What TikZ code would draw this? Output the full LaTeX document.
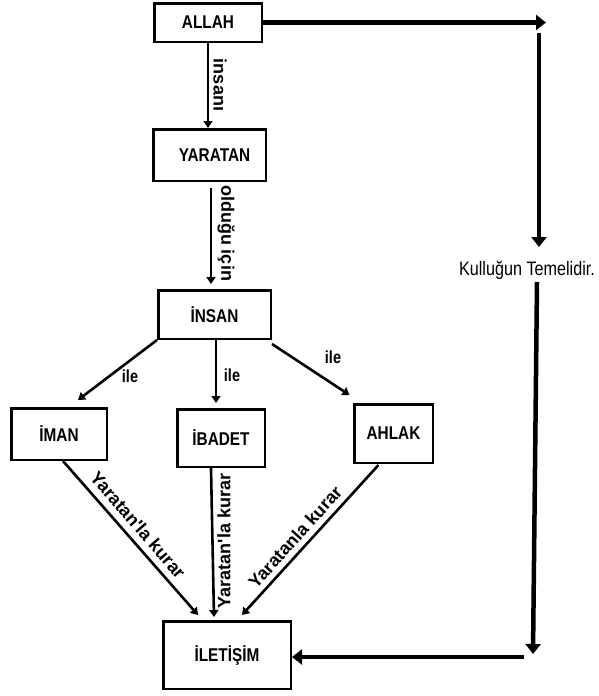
\documentclass[tikz,border=0pt]{standalone}
\usepackage{fontspec}
\setmainfont{Liberation Sans}[FakeStretch=0.83]
\newfontfamily\labfont{Liberation Sans}
\usetikzlibrary{arrows.meta,calc}
\begin{document}
\begin{tikzpicture}[x=1pt,y=-1pt,
  box/.style={draw,line width=2.5pt,inner sep=0pt,font=\fontsize{18.5}{20}\selectfont\bfseries},
  arr/.style={line width=2.6pt,-{Triangle[length=7pt,width=9pt]}},
  bigarr/.style={line width=4.5pt,-{Triangle[length=10pt,width=15pt]}},
  lbl/.style={font=\fontsize{17.5}{19}\selectfont\bfseries,inner sep=0pt},
  rlbl/.style={font=\labfont\fontsize{18}{20}\selectfont\bfseries,inner sep=0pt}]
\useasboundingbox (0,0) rectangle (598,696);
% boxes
\node[box,minimum width=107.5pt,minimum height=38.5pt] (allah) at (208,22.5) {ALLAH};
\node[box,minimum width=112.5pt,minimum height=51.5pt] (yaratan) at (209.5,155) {\hspace{10pt}YARATAN};
\node[box,minimum width=112.5pt,minimum height=48.5pt] (insan) at (214.5,314.5) {İNSAN};
\node[box,minimum width=95.5pt,minimum height=51.5pt] (iman) at (59,434) {\raisebox{-3pt}{İMAN}};
\node[box,minimum width=87.5pt,minimum height=57.5pt] (ibadet) at (221,438) {İBADET};
\node[box,minimum width=78.5pt,minimum height=58.5pt] (ahlak) at (393.5,433.5) {\raisebox{-3pt}{AHLAK}};
\node[box,minimum width=127.5pt,minimum height=67.5pt] (iletisim) at (227,655) {\raisebox{-3pt}{İLETİŞİM}};
\node[font=\fontsize{19.5}{21}\selectfont,inner sep=0pt] (kul) at (527,270) {Kulluğun Temelidir.};
% left chain
\draw[arr] (allah.south) -- (allah.south |- yaratan.north);
\draw[arr] ($(yaratan.south)+(1.5,6)$) -- ($(insan.north)+(-3.5,-5)$);
\node[rlbl,rotate=-90] (l1) at (220,85) {insanı};
\node[rlbl,rotate=-90] (l2) at (226,233) {olduğu için};
% insan branches
\draw[arr] (insan.south west) -- ($(iman.north)+(19,-7)$);
\draw[arr] ($(insan.south)+(1.5,0)$) -- ($(ibadet.north)+(-5,-5)$);
\draw[arr] ($(insan.south east)+(0,4)$) -- ($(ahlak.north)+(-44,-8)$);
\node[lbl] (i1) at (130,376) {ile};
\node[lbl] (i2) at (232,375) {ile};
\node[lbl] (i3) at (333,357) {ile};
% to iletisim
\draw[arr] ($(iman.south)+(4,0)$) -- ($(iletisim.north)+(-29,-5)$);
\draw[arr] ($(ibadet.south)+(-10,0)$) -- ($(iletisim.north)+(-13,-3)$);
\draw[arr] ($(ahlak.south)+(-15,1)$) -- ($(iletisim.north)+(15,-5)$);
\node[rlbl,rotate=-49] (y1) at (138,525) {Yaratan'la kurar};
\node[rlbl,rotate=90] (y2) at (224,541) {Yaratan'la kurar};
\node[rlbl,rotate=48] (y3) at (295,537) {Yaratanla kurar};
% right side
\coordinate (c1) at (546,22.5);
\coordinate (c2) at (539,33);
\coordinate (c3) at (533,654);
\coordinate (c4) at (524,657);
\draw[bigarr] (allah.east) -- (c1);
\draw[bigarr] (c2) -- ($(kul.center)+(12,-23)$);
\draw[bigarr] ($(kul.center)+(10,12)$) -- (c3);
\draw[bigarr] (c4) -- ($(iletisim.east)+(0,2)$);
\end{tikzpicture}
\end{document}
